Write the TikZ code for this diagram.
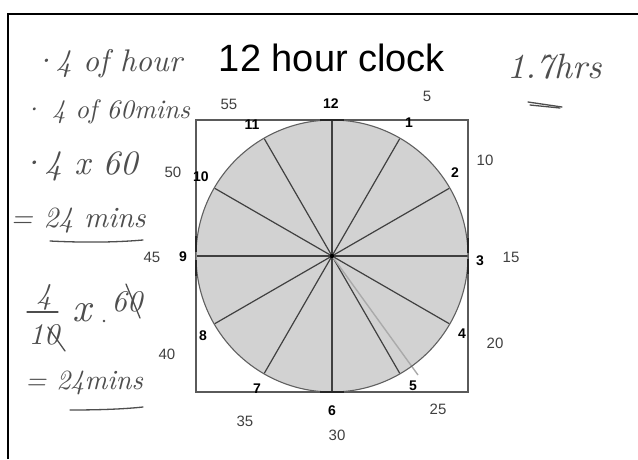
\documentclass[tikz,border=0pt]{standalone}
\usepackage{fontspec}
\newfontfamily\arialf{Liberation Sans}
\definecolor{clockfill}{HTML}{D2D2D2}
\definecolor{sqgray}{HTML}{5A5A5A}
\definecolor{rimgray}{HTML}{606060}
\definecolor{spokegray}{HTML}{404040}
\definecolor{handgray}{HTML}{4E4E4E}
\definecolor{needlegray}{HTML}{AAAAAA}
\begin{document}
\begin{tikzpicture}[x=1pt,y=-1pt,
  hourlbl/.style={font=\arialf\bfseries\fontsize{14pt}{14pt}\selectfont, text=black, inner sep=0},
  minlbl/.style={font=\arialf\fontsize{15pt}{15pt}\selectfont, text=black!75, inner sep=0},
  hand/.style={text=handgray, inner sep=0},
  handline/.style={draw=handgray, line width=1.3pt, line cap=round},
  spoke/.style={draw=spokegray, line width=1.2pt},
  tangent/.style={draw=black!85, line width=2pt}
]
\useasboundingbox (0,0) rectangle (638,459);
\fill[white] (0,0) rectangle (638,459);
% outer frame
\draw[line width=2.8pt] (8,459) |- (638,14);

% title
\node[font=\arialf\fontsize{38pt}{40pt}\selectfont, inner sep=0] (title) at (332,58) {12 hour clock};

% clock
\coordinate (c) at (332,256);
\node[draw=sqgray, line width=1.2pt, minimum size=272pt, inner sep=0] (sq) at (c) {};
\fill[clockfill] (c) circle[radius=136];
\foreach \a in {0,30,...,330} \draw[spoke] (c) -- ++(\a:135.5);
\coordinate (needle) at (418,375);
\draw[needlegray, line width=1.4pt] (c) -- (needle);
\draw[rimgray, line width=1.1pt] (c) circle[radius=136];
\fill (c) circle[radius=2.2];
% darker contact marks where circle meets square
\draw[tangent] (320,120) -- (344,120);
\draw[tangent] (320,392) -- (344,392);
\draw[tangent] (468,238) -- (468,253) (468,259) -- (468,274);
\draw[tangent] (196,236) -- (196,252) (196,260) -- (196,276);

% hour labels
\node[hourlbl] (h12) at (331,104) {12};
\node[hourlbl] (h1) at (409,123) {1};
\node[hourlbl] (h2) at (455,173) {2};
\node[hourlbl] (h3) at (480,261) {3};
\node[hourlbl] (h4) at (462,334) {4};
\node[hourlbl] (h5) at (413,386) {5};
\node[hourlbl] (h6) at (332,411) {6};
\node[hourlbl] (h7) at (257,389) {7};
\node[hourlbl] (h8) at (203,336) {8};
\node[hourlbl] (h9) at (183,257) {9};
\node[hourlbl] (h10) at (201,177) {10};
\node[hourlbl] (h11) at (252,125) {11};

% minute labels
\node[minlbl] (m5) at (427,96) {5};
\node[minlbl] (m10) at (485,160) {10};
\node[minlbl] (m15) at (511,257) {15};
\node[minlbl] (m20) at (495,343) {20};
\node[minlbl] (m25) at (438,409) {25};
\node[minlbl] (m30) at (337,435) {30};
\node[minlbl] (m35) at (245,421) {35};
\node[minlbl] (m40) at (167,354) {40};
\node[minlbl] (m45) at (152,257) {45};
\node[minlbl] (m50) at (173,172) {50};
\node[minlbl] (m55) at (229,104) {55};

% handwritten working
\node[hand] (w1) at (107,64) {\resizebox{150pt}{!}{\itshape ·4 of hour}};
\node[hand] (w2) at (106,112) {\resizebox{168pt}{!}{\itshape · 4 of 60mins}};
\node[hand] (w3) at (78,166) {\resizebox{119pt}{!}{\itshape ·4 x 60}};
\node[hand] (w4) at (78,221) {\resizebox{135pt}{!}{\itshape = 24 mins}};
\draw[handline] (50,241) .. controls (90,243) and (120,242) .. (143,240);

\node[hand] (fn) at (44,297) {\resizebox{!}{20pt}{\itshape 4}};
\draw[handline] (27,312) -- (58,312);
\node[hand] (fd) at (44,335) {\resizebox{!}{20pt}{\itshape 10}};
\draw[handline] (48,327) -- (65,351);
\node[hand] (fx) at (82,313) {\resizebox{!}{18pt}{\itshape x}};
\fill[handgray] (104,321) circle[radius=1.3];
\node[hand] (f60) at (127,302) {\resizebox{!}{20pt}{\itshape 60}};
\draw[handline] (126,284) -- (140,318);

\node[hand] (w6) at (84,383) {\resizebox{118pt}{!}{\itshape = 24mins}};
\draw[handline] (70,410) .. controls (100,410) and (125,409) .. (143,407);

\node[hand] (ans) at (555,67) {\resizebox{94pt}{!}{\itshape 1.7hrs}};
\draw[handline] (528,102) -- (562,107);
\draw[handline] (530,105) -- (560,108);
\end{tikzpicture}
\end{document}
